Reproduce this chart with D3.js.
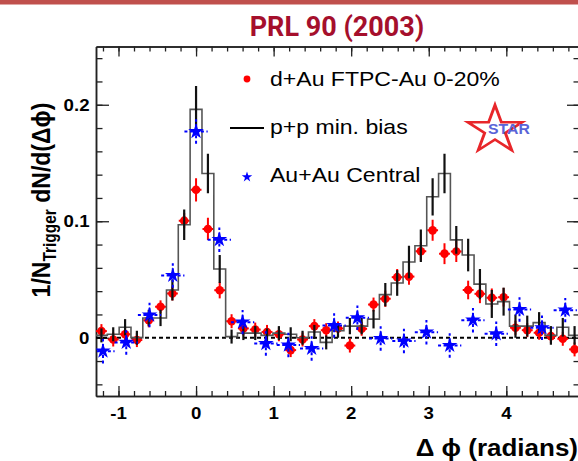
<!DOCTYPE html>
<html><head><meta charset="utf-8">
<script src="https://cdn.jsdelivr.net/npm/d3@7"></script>
<style>
html,body{margin:0;padding:0;background:#fff;}
svg{display:block;}
</style></head><body>
<svg id="chart" width="578" height="461"></svg>
<script>
// Δφ bin centres (radians) shared by the d+Au and p+p distributions
const binCenters = [-1.220,-1.068,-0.915,-0.763,-0.610,-0.458,-0.305,-0.153,0,0.153,0.305,0.458,0.610,0.763,0.915,1.068,1.220,1.373,1.525,1.678,1.830,1.983,2.135,2.288,2.440,2.593,2.745,2.898,3.050,3.203,3.355,3.508,3.660,3.813,3.965,4.118,4.270,4.423,4.575,4.728,4.880];
const binHalfWidth = 0.07625;

// d+Au FTPC-Au 0-20%
const dAuValues = [0.0057,-0.0015,0.003,-0.002,0.015,0.0266,0.038,0.1005,0.127,0.0934,0.0408,0.0142,0.008,0.007,0.005,0.003,-0.0106,-0.0015,0.010,0.0065,0.008,-0.0067,0.0077,0.0285,0.0335,0.052,0.0525,0.0742,0.0922,0.0722,0.074,0.041,0.0377,0.0343,0.0348,0.0086,0.0065,0.0043,0.0014,-0.0009,-0.010];
const dAuErrors = [0.006,0.006,0.006,0.006,0.006,0.0055,0.006,0.0065,0.010,0.0095,0.007,0.006,0.006,0.006,0.006,0.006,0.006,0.006,0.006,0.006,0.006,0.006,0.006,0.006,0.007,0.007,0.007,0.008,0.009,0.009,0.009,0.008,0.008,0.008,0.008,0.006,0.006,0.006,0.006,0.006,0.006];

// p+p minimum bias
const ppValues = [0.002,0.003,0.009,0.000,0.017,0.017,0.041,0.097,0.196,0.141,0.059,0.001,0.004,0.004,0.002,0.004,0.003,0.000,0.005,-0.004,0.006,0.010,0.010,0.016,0.037,0.047,0.065,0.079,0.121,0.141,0.084,0.071,0.046,0.029,0.031,0.010,0.010,0.013,0.002,0.009,0.002];
const ppErrors = [0.006,0.006,0.007,0.006,0.007,0.007,0.009,0.013,0.020,0.017,0.012,0.006,0.006,0.006,0.006,0.006,0.006,0.006,0.006,0.006,0.006,0.007,0.007,0.008,0.010,0.011,0.014,0.014,0.016,0.017,0.012,0.014,0.013,0.012,0.012,0.010,0.009,0.009,0.008,0.008,0.008];

// Au+Au central
const auauCenters = [-1.20,-0.90,-0.60,-0.30,0,0.30,0.60,0.90,1.19,1.49,1.78,2.08,2.38,2.68,2.97,3.27,3.57,3.87,4.17,4.46,4.76];
const auauValues = [-0.0115,-0.004,0.0195,0.0535,0.177,0.0842,0.0134,-0.005,-0.0063,-0.0092,0.0105,0.0171,-0.0006,-0.0028,0.0048,-0.0066,0.0151,0.0034,0.0243,0.0086,0.0237];
const auauErrors = [0.0105,0.0105,0.0105,0.0105,0.0105,0.0105,0.0105,0.0105,0.0105,0.0105,0.0105,0.0105,0.0105,0.0105,0.0105,0.0105,0.0105,0.0105,0.0105,0.0105,0.0105];
const auauHalfWidth = 0.15;

// axis ticks and labels
const xTicks = [-1,0,1,2,3,4];
const xTickLabels = ["-1","0","1","2","3","4"];
const xMinorStep = 0.2;
const yTicks = [0,0.1,0.2];
const yTickLabels = ["0","0.1","0.2"];
const yMinorStep = 0.02;

const legendLabels = ["d+Au FTPC-Au 0-20%","p+p min. bias","Au+Au Central"];

const svg = d3.select("#chart");
const W = 578, H = 461;
const plot = {left: 96, right: 580, top: 46.5, bottom: 396};
const TX = 1.13; // horizontal stretch of the lettering

const x = d3.scaleLinear().domain([-1.29, 4.95]).range([plot.left, plot.right]);
const y = d3.scaleLinear().domain([-0.05, 0.25]).range([plot.bottom, plot.top]);

function label(g, px, py, str, o) {
  return g.append("text")
    .attr("transform", `translate(${px},${py}) scale(${o.sx || TX},1)`)
    .attr("text-anchor", o.anchor || "start")
    .attr("font-family", o.family || "'Liberation Sans', Arial, sans-serif")
    .attr("font-weight", o.weight || "normal")
    .attr("font-size", o.size)
    .attr("fill", o.fill || "#000")
    .text(str);
}

// header band and title
svg.append("rect").attr("x", 0).attr("y", 0).attr("width", W).attr("height", 4.5).attr("fill", "#c0504d");
svg.append("text")
  .attr("x", 337).attr("y", 36)
  .attr("text-anchor", "middle")
  .attr("font-family", "Roboto, sans-serif")
  .attr("font-weight", "bold")
  .attr("font-size", 27)
  .attr("fill", "#a50f2c")
  .text("PRL 90 (2003)");

const defs = svg.append("defs");
defs.append("clipPath").attr("id", "plotclip").append("rect")
  .attr("x", plot.left).attr("y", plot.top)
  .attr("width", plot.right - plot.left).attr("height", plot.bottom - plot.top);

// axes with inward ticks on all four sides
const xMinor = d3.range(-1.2, 4.95, xMinorStep).map(v => +v.toFixed(2));
const yMinor = d3.range(-0.04, 0.25, yMinorStep).map(v => +v.toFixed(3));
const axG = svg.append("g").attr("stroke-width", 1.3);

axG.append("g").attr("transform", `translate(0,${plot.bottom})`)
  .call(d3.axisBottom(x).tickValues(xMinor).tickSizeInner(-5).tickSizeOuter(0).tickFormat(""));
axG.append("g").attr("transform", `translate(0,${plot.bottom})`)
  .call(d3.axisBottom(x).tickValues(xTicks).tickSizeInner(-10).tickSizeOuter(0).tickFormat(""));
axG.append("g").attr("transform", `translate(0,${plot.top})`)
  .call(d3.axisTop(x).tickValues(xMinor).tickSizeInner(-5).tickSizeOuter(0).tickFormat(""));
axG.append("g").attr("transform", `translate(0,${plot.top})`)
  .call(d3.axisTop(x).tickValues(xTicks).tickSizeInner(-10).tickSizeOuter(0).tickFormat(""));
axG.append("g").attr("transform", `translate(${plot.left},0)`)
  .call(d3.axisLeft(y).tickValues(yMinor).tickSizeInner(-6.5).tickSizeOuter(0).tickFormat(""));
axG.append("g").attr("transform", `translate(${plot.left},0)`)
  .call(d3.axisLeft(y).tickValues(yTicks).tickSizeInner(-13).tickSizeOuter(0).tickFormat(""));
axG.append("g").attr("transform", `translate(${plot.right},0)`)
  .call(d3.axisRight(y).tickValues(yMinor).tickSizeInner(-6.5).tickSizeOuter(0).tickFormat(""));
axG.append("g").attr("transform", `translate(${plot.right},0)`)
  .call(d3.axisRight(y).tickValues(yTicks).tickSizeInner(-13).tickSizeOuter(0).tickFormat(""));
axG.selectAll("path.domain").attr("stroke", "#222").attr("stroke-width", 1.5);
axG.selectAll(".tick line").attr("stroke", "#222").attr("stroke-width", 1.3);

// tick labels
const tl = svg.append("g");
xTicks.forEach((v, i) => label(tl, x(v), 418.5, xTickLabels[i], {size: 16.5, weight: "bold", anchor: "middle"}));
yTicks.forEach((v, i) => label(tl, 89.5, y(v) + 6, yTickLabels[i], {size: 16.5, weight: "bold", anchor: "end"}));

// axis titles
const xt = label(svg, 578, 456, "", {size: 23, weight: "bold", anchor: "end"});
xt.text("\u0394 \u03d5 (radians)");

const yt = svg.append("text")
  .attr("transform", "translate(50,200) rotate(-90) scale(1,1.13)")
  .attr("text-anchor", "middle")
  .attr("font-family", "'Liberation Sans', Arial, sans-serif")
  .attr("font-weight", "bold")
  .attr("font-size", 23);
yt.append("tspan").text("1/N");
yt.append("tspan").attr("font-size", 15.5).attr("dy", 5).text("Trigger");
yt.append("tspan").attr("dy", -5).text(" dN/d(\u0394\u03d5)");

// zero reference line
svg.append("line")
  .attr("x1", plot.left).attr("x2", plot.right)
  .attr("y1", y(0)).attr("y2", y(0))
  .attr("stroke", "#000").attr("stroke-width", 2).attr("stroke-dasharray", "4,3");

const data = svg.append("g").attr("clip-path", "url(#plotclip)");

// d+Au points
const dAu = binCenters.map((c, i) => ({x: c, v: dAuValues[i], e: dAuErrors[i]}));
const redG = data.append("g");
redG.selectAll("line.ex").data(dAu).join("line")
  .attr("x1", d => x(d.x - 0.07)).attr("x2", d => x(d.x + 0.07))
  .attr("y1", d => y(d.v)).attr("y2", d => y(d.v))
  .attr("stroke", "#ff0000").attr("stroke-width", 2);
redG.selectAll("line.ey").data(dAu).join("line")
  .attr("x1", d => x(d.x)).attr("x2", d => x(d.x))
  .attr("y1", d => y(d.v - d.e)).attr("y2", d => y(d.v + d.e))
  .attr("stroke", "#ff0000").attr("stroke-width", 2);
redG.selectAll("circle").data(dAu).join("circle")
  .attr("cx", d => x(d.x)).attr("cy", d => y(d.v)).attr("r", 4.3)
  .attr("fill", "#ff0000");

// p+p histogram with statistical errors
const stepPts = [];
binCenters.forEach((c, i) => {
  stepPts.push([c - binHalfWidth, ppValues[i]]);
  stepPts.push([c + binHalfWidth, ppValues[i]]);
});
data.append("path")
  .attr("d", d3.line().x(d => x(d[0])).y(d => y(d[1]))(stepPts))
  .attr("fill", "none").attr("stroke", "#555").attr("stroke-width", 1.6);
const pp = binCenters.map((c, i) => ({x: c, v: ppValues[i], e: ppErrors[i]}));
data.append("g").selectAll("line").data(pp).join("line")
  .attr("x1", d => x(d.x)).attr("x2", d => x(d.x))
  .attr("y1", d => y(d.v - d.e)).attr("y2", d => y(d.v + d.e))
  .attr("stroke", "#111").attr("stroke-width", 2.2);

// Au+Au points
const auau = auauCenters.map((c, i) => ({x: c, v: auauValues[i], e: auauErrors[i]}));
const blueG = data.append("g");
blueG.selectAll("line.ex").data(auau).join("line")
  .attr("x1", d => x(d.x - auauHalfWidth)).attr("x2", d => x(d.x + auauHalfWidth))
  .attr("y1", d => y(d.v)).attr("y2", d => y(d.v))
  .attr("stroke", "#0000ff").attr("stroke-width", 2).attr("stroke-dasharray", "3,2.5");
blueG.selectAll("line.ey").data(auau).join("line")
  .attr("x1", d => x(d.x)).attr("x2", d => x(d.x))
  .attr("y1", d => y(d.v - d.e)).attr("y2", d => y(d.v + d.e))
  .attr("stroke", "#0000ff").attr("stroke-width", 2).attr("stroke-dasharray", "3,2.5");
blueG.selectAll("path").data(auau).join("path")
  .attr("transform", d => `translate(${x(d.x)},${y(d.v)})`)
  .attr("d", d3.symbol(d3.symbolStar, 76)())
  .attr("fill", "#0000ff");

// legend
const lg = svg.append("g");
lg.append("circle").attr("cx", 247).attr("cy", 79).attr("r", 3.4).attr("fill", "#ff0000");
lg.append("line").attr("x1", 230).attr("x2", 264).attr("y1", 128).attr("y2", 128).attr("stroke", "#000").attr("stroke-width", 2);
lg.append("path").attr("transform", "translate(247,177)").attr("d", d3.symbol(d3.symbolStar, 34)()).attr("fill", "#0000ff");
legendLabels.forEach((t, i) => label(lg, 270, 86 + i * 48, t, {size: 20.4}));

// STAR logo
const logo = svg.append("g").attr("transform", "translate(495,130) scale(1.14,1)");
logo.append("path").attr("d", d3.symbol(d3.symbolStar, 700)())
  .attr("fill", "#fff").attr("stroke", "#e8262a").attr("stroke-width", 2.6);
label(svg, 488, 134, "STAR", {size: 14, weight: "bold", fill: "#5a64d8"});
</script>
</body></html>
